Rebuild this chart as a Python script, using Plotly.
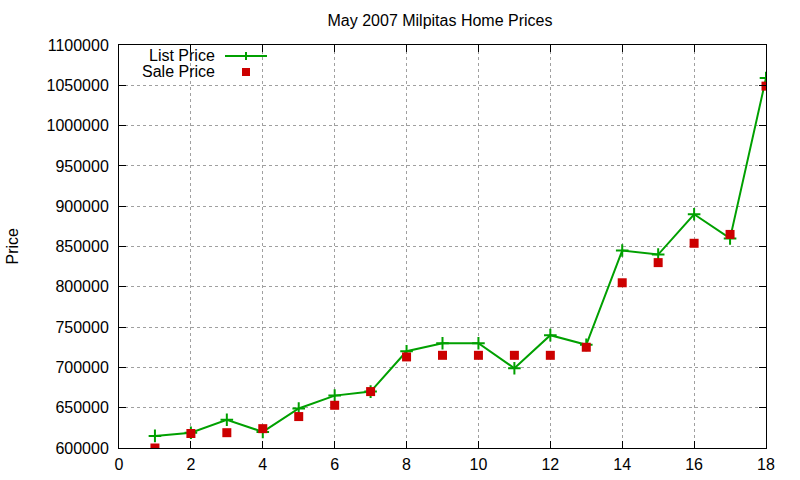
import plotly.graph_objects as go

house = list(range(1, 19))
list_price = [615000, 619000, 635000, 620000, 649000, 665000, 670000, 720000, 730000,
              730000, 699000, 740000, 728000, 845000, 840000, 890000, 860000, 1059000]
sale_price = [600000, 618000, 619000, 624000, 639000, 653000, 670000, 713000, 715000,
              715000, 715000, 715000, 725000, 805000, 830000, 854000, 865000, 1049000]

GREEN = "#00a000"
RED = "#cc0000"
FONT = "Liberation Sans, Arial, sans-serif"
FS = 16

fig = go.Figure()
fig.add_trace(go.Scatter(x=house, y=list_price, mode="lines+markers", name="List Price",
                         line=dict(color=GREEN, width=2),
                         marker=dict(symbol="cross-thin", size=9, line=dict(color=GREEN, width=2))))
fig.add_trace(go.Scatter(x=house, y=sale_price, mode="markers", name="Sale Price",
                         marker=dict(symbol="square", size=9, color=RED)))

axis_common = dict(showline=True, linecolor="black", linewidth=1, mirror="allticks",
                   ticks="inside", ticklen=7, tickcolor="black", automargin=False,
                   showgrid=True, gridcolor="#a0a0a0", griddash="dot", gridwidth=1,
                   zeroline=False, tickfont=dict(family=FONT, size=FS, color="black"))

fig.update_layout(
    width=800, height=480,
    margin=dict(l=119, r=34, t=45, b=32),
    plot_bgcolor="white", paper_bgcolor="white",
    showlegend=False,
    title=dict(text="May 2007 Milpitas Home Prices", x=0.55, xanchor="center", y=0.958, yanchor="middle",
               font=dict(family=FONT, size=FS, color="black")),
    xaxis=dict(range=[0, 18], dtick=2, **axis_common),
    yaxis=dict(range=[600000, 1100000], dtick=50000, tickformat="d", **axis_common),
)
fig.update_yaxes(ticklabelstandoff=6)
fig.update_xaxes(ticklabelstandoff=2)

# Y axis title
fig.add_annotation(text="Price", xref="paper", yref="paper", x=0, y=0.5,
                   xshift=-107, textangle=-90, showarrow=False, xanchor="center",
                   font=dict(family=FONT, size=FS, color="black"))
fig.layout.annotations[0].x = (12 - 119) / (766 - 119)
fig.layout.annotations[0].xshift = 0

# gnuplot-style legend (text right-aligned, sample to the right)
fig.add_annotation(text="List Price", xref="paper", yref="paper", x=0, y=1,
                   xshift=98, yshift=-10, xanchor="right", yanchor="middle", showarrow=False,
                   font=dict(family=FONT, size=FS, color="black"))
fig.add_annotation(text="Sale Price", xref="paper", yref="paper", x=0, y=1,
                   xshift=98, yshift=-26, xanchor="right", yanchor="middle", showarrow=False,
                   font=dict(family=FONT, size=FS, color="black"))
px0, py0 = 119, 45
W, H = 766 - 119, 448 - 45
def fx(px):
    return (px - px0) / W
def fy(py):
    return 1 - (py - py0) / H
fig.add_shape(type="line", xref="paper", yref="paper", x0=fx(225), x1=fx(267), y0=fy(56), y1=fy(56),
              line=dict(color=GREEN, width=2))
fig.add_shape(type="line", xref="paper", yref="paper", x0=fx(246), x1=fx(246), y0=fy(52), y1=fy(60),
              line=dict(color=GREEN, width=2))
fig.add_shape(type="rect", xref="paper", yref="paper", x0=fx(242), x1=fx(250), y0=fy(68), y1=fy(76),
              line=dict(color=RED, width=0), fillcolor=RED)

fig.write_html("out.html")
